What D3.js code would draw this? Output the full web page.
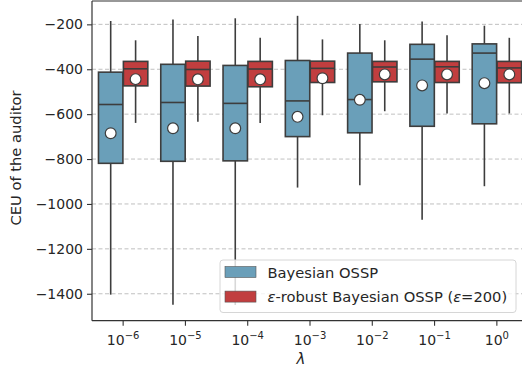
<!DOCTYPE html>
<html>
<head>
<meta charset="utf-8">
<script src="https://cdn.jsdelivr.net/npm/d3@7"></script>
<style>
  html, body { margin: 0; padding: 0; background: #fff; }
  svg { display: block; font-family: "DejaVu Sans", sans-serif; }
</style>
</head>
<body>
<svg id="chart" width="522" height="375"></svg>
<script>
// ---- data ----
const exponents = ["−6", "−5", "−4", "−3", "−2", "−1", "0"];
const categories = ["1e-6", "1e-5", "1e-4", "1e-3", "1e-2", "1e-1", "1e0"];
const seriesNames = ["Bayesian OSSP", "ε-robust Bayesian OSSP (ε=200)"];
const yTicks = [-1400, -1200, -1000, -800, -600, -400, -200];

const bayesWhiskerHigh = [-185, -178, -173, -162, -199, -187, -206];
const bayesQ3          = [-413, -378, -383, -361, -328, -289, -287];
const bayesMedian      = [-557, -548, -552, -541, -535, -355, -328];
const bayesQ1          = [-819, -810, -808, -700, -683, -654, -643];
const bayesWhiskerLow  = [-1404, -1449, -1450, -927, -917, -1070, -921];
const bayesMean        = [-685, -663, -663, -612, -536, -472, -462];

const robustWhiskerHigh = [-271, -252, -260, -267, -271, -249, -260];
const robustQ3          = [-365, -364, -365, -364, -365, -365, -365];
const robustMedian      = [-398, -401, -399, -396, -390, -389, -394];
const robustQ1          = [-474, -475, -478, -459, -456, -459, -460];
const robustWhiskerLow  = [-639, -634, -639, -605, -587, -597, -597];
const robustMean        = [-444, -445, -445, -440, -423, -423, -423];

(function () {
// ---- build table ----
const colors = {"Bayesian OSSP": "#6a9fb9", "ε-robust Bayesian OSSP (ε=200)": "#c13e3f"};
const rows = [];
categories.forEach((c, i) => {
  rows.push({cat: c, series: seriesNames[0], lo: bayesWhiskerLow[i], q1: bayesQ1[i], med: bayesMedian[i], q3: bayesQ3[i], hi: bayesWhiskerHigh[i], mean: bayesMean[i]});
  rows.push({cat: c, series: seriesNames[1], lo: robustWhiskerLow[i], q1: robustQ1[i], med: robustMedian[i], q3: robustQ3[i], hi: robustWhiskerHigh[i], mean: robustMean[i]});
});

const svg = d3.select("#chart");
const mLeft = 92, mRight = 528, mTop = 1, mBottom = 320.7;
const edge = "#3d3d3d";

const x = d3.scaleBand().domain(categories).range([mLeft, mRight]).padding(0);
const xs = d3.scaleBand().domain(seriesNames).range([x.bandwidth() * 0.1, x.bandwidth() * 0.9]).padding(0);
const y = d3.scaleLinear().domain([-1520, -96]).range([mBottom, mTop]);

// grid
svg.append("g").selectAll("line").data(yTicks).join("line")
  .attr("x1", mLeft).attr("x2", mRight)
  .attr("y1", d => y(d)).attr("y2", d => y(d))
  .attr("stroke", "#b0b0b0").attr("stroke-width", 0.8).attr("stroke-dasharray", "4,2.5");

// boxes
const g = svg.append("g");
const bw = xs.bandwidth() * 0.98;
const bx = d => x(d.cat) + xs(d.series) + (xs.bandwidth() - bw) / 2;
const cx = d => x(d.cat) + xs(d.series) + xs.bandwidth() / 2;

const grp = g.selectAll("g.box").data(rows).join("g").attr("class", "box");
grp.append("line").attr("x1", cx).attr("x2", cx).attr("y1", d => y(d.q3)).attr("y2", d => y(d.hi))
  .attr("stroke", edge).attr("stroke-width", 1.6);
grp.append("line").attr("x1", cx).attr("x2", cx).attr("y1", d => y(d.q1)).attr("y2", d => y(d.lo))
  .attr("stroke", edge).attr("stroke-width", 1.6);
grp.append("rect").attr("x", bx).attr("width", bw)
  .attr("y", d => y(d.q3)).attr("height", d => y(d.q1) - y(d.q3))
  .attr("fill", d => colors[d.series]).attr("stroke", edge).attr("stroke-width", 1.6);
grp.append("line").attr("x1", bx).attr("x2", d => bx(d) + bw)
  .attr("y1", d => y(d.med)).attr("y2", d => y(d.med))
  .attr("stroke", edge).attr("stroke-width", 1.6);
grp.append("circle").attr("cx", cx).attr("cy", d => y(d.mean)).attr("r", 5.4)
  .attr("fill", "#fff").attr("stroke", edge).attr("stroke-width", 1.2);

// axes spines
svg.append("line").attr("x1", mLeft).attr("x2", mLeft).attr("y1", mTop).attr("y2", mBottom).attr("stroke", "#333").attr("stroke-width", 1.2);
svg.append("line").attr("x1", mLeft).attr("x2", mRight).attr("y1", mBottom).attr("y2", mBottom).attr("stroke", "#333").attr("stroke-width", 1.2);
svg.append("line").attr("x1", mLeft).attr("x2", mRight).attr("y1", mTop).attr("y2", mTop).attr("stroke", "#333").attr("stroke-width", 1.2);

// y axis
const yAxis = d3.axisLeft(y).tickValues(yTicks).tickSize(5).tickPadding(4)
  .tickFormat(d => d3.format("d")(d).replace("-", "−"));
const ya = svg.append("g").attr("transform", `translate(${mLeft},0)`).call(yAxis);
ya.select(".domain").remove();
ya.selectAll(".tick line").attr("stroke", "#333").attr("stroke-width", 1.1);
ya.selectAll(".tick text").attr("font-size", 14).attr("fill", "#262626").attr("font-family", "DejaVu Sans");

// x axis
const xAxis = d3.axisBottom(x).tickSize(5).tickPadding(4).tickFormat("");
const xa = svg.append("g").attr("transform", `translate(0,${mBottom})`).call(xAxis);
xa.select(".domain").remove();
xa.selectAll(".tick line").attr("stroke", "#333").attr("stroke-width", 1.1);
xa.selectAll(".tick").each(function(d, i) {
  const t = d3.select(this).append("text").attr("y", 24).attr("fill", "#262626")
    .attr("font-size", 14).attr("text-anchor", "middle").attr("font-family", "DejaVu Sans");
  t.append("tspan").text("10");
  t.append("tspan").text(exponents[i]).attr("font-size", 10).attr("dy", -6);
});

// axis labels
svg.append("text").attr("x", (mLeft + mRight) / 2 - 9).attr("y", 364)
  .attr("text-anchor", "middle").attr("font-size", 15).attr("font-style", "italic")
  .attr("fill", "#262626").text("λ");
svg.append("text").attr("transform", `translate(21,158) rotate(-90)`)
  .attr("text-anchor", "middle").attr("font-size", 14.7).attr("fill", "#262626")
  .text("CEU of the auditor");

// legend
const lg = svg.append("g").attr("transform", "translate(220,260)");
lg.append("rect").attr("width", 296).attr("height", 52.5).attr("rx", 3)
  .attr("fill", "rgba(255,255,255,0.8)").attr("stroke", "#d6d6d6").attr("stroke-width", 1);
seriesNames.forEach((s, i) => {
  lg.append("rect").attr("x", 5).attr("y", 6.5 + i * 24.6).attr("width", 31).attr("height", 11)
    .attr("fill", colors[s]).attr("stroke", "#555").attr("stroke-width", 0.6);
  const t = lg.append("text").attr("x", 47.5).attr("y", 17.5 + i * 24.6).attr("font-size", 14.7)
    .attr("fill", "#262626");
  // render ε in italic (math style), rest upright
  s.split(/(ε)/).filter(p => p.length).forEach(p => {
    const ts = t.append("tspan").text(p);
    if (p === "ε") ts.attr("font-style", "italic");
  });
});
})();
</script>
</body>
</html>
